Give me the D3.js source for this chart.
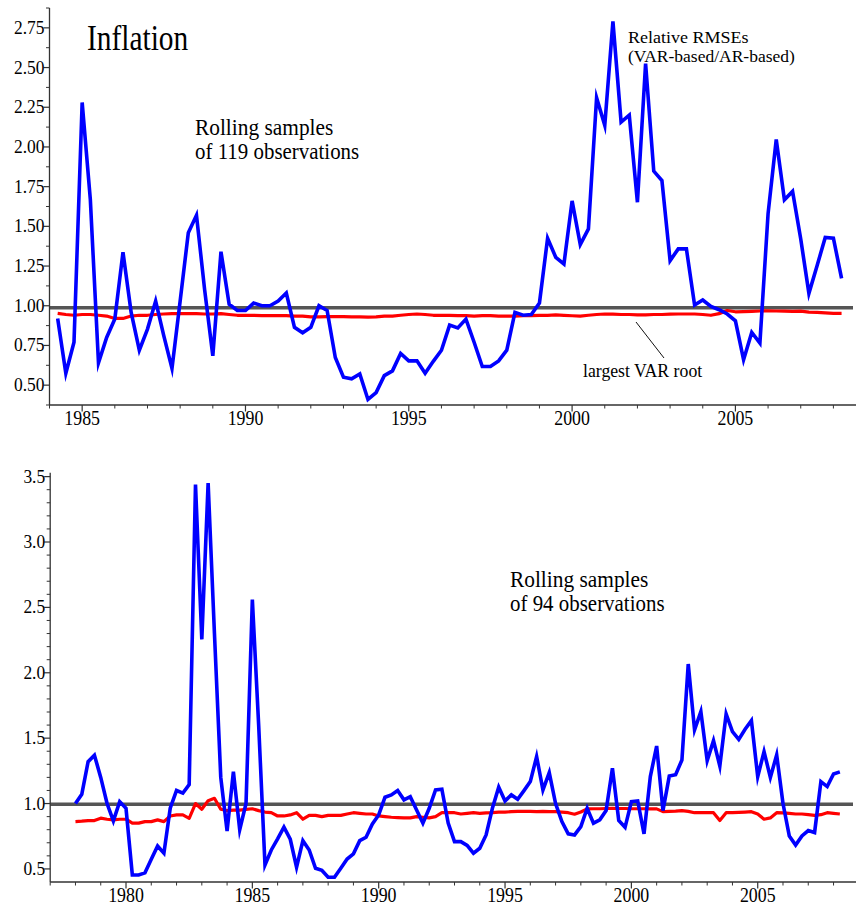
<!DOCTYPE html>
<html>
<head>
<meta charset="utf-8">
<script src="https://cdn.jsdelivr.net/npm/d3@7"></script>
<style>
  html, body { margin: 0; padding: 0; background: #fff; }
  svg { display: block; }
  text { font-family: "Liberation Serif", "Times New Roman", serif; fill: #000; }
</style>
</head>
<body>
<svg id="chart" width="856" height="907"></svg>
<script>
// ---------------- DATA ----------------
// Top panel: rolling samples of 119 observations, quarterly 1984Q2 .. 2008Q2
const topStart = 1984.25;
const topRmse = [
  0.92, 0.575, 0.77,
  2.28, 1.67, 0.64, 0.80,
  0.916, 1.337, 0.958, 0.72,
  0.853, 1.03, 0.81, 0.605,
  1.03, 1.46, 1.57, 1.10,
  0.685, 1.34, 1.01, 0.97,
  0.97, 1.017, 1.0, 1.0,
  1.03, 1.08, 0.864, 0.83,
  0.864, 1.0, 0.97, 0.674,
  0.55, 0.54, 0.57, 0.41,
  0.453, 0.56, 0.59, 0.70,
  0.653, 0.653, 0.575, 0.65,
  0.72, 0.878, 0.86, 0.916,
  0.77, 0.617, 0.617, 0.653,
  0.72, 0.958, 0.94, 0.945,
  1.017, 1.425, 1.305, 1.263,
  1.66, 1.385, 1.484, 2.31,
  2.136, 2.79, 2.157, 2.20,
  1.652, 2.525, 1.848, 1.789,
  1.284, 1.358, 1.358, 1.004,
  1.036, 0.996, 0.975, 0.948,
  0.905, 0.66, 0.832, 0.765,
  1.58, 2.047, 1.667, 1.72,
  1.42, 1.078, 1.252, 1.43,
  1.425, 1.173
];
const topRoot = [
  0.952, 0.945, 0.94,
  0.945, 0.945, 0.94, 0.935,
  0.92, 0.92, 0.935, 0.94,
  0.94, 0.945, 0.948, 0.95,
  0.95, 0.95, 0.95, 0.948,
  0.948, 0.95, 0.945, 0.94,
  0.94, 0.94, 0.938, 0.938,
  0.938, 0.938, 0.935, 0.935,
  0.93, 0.93, 0.932, 0.932,
  0.932, 0.93, 0.93, 0.928,
  0.93, 0.935, 0.935, 0.94,
  0.945, 0.948, 0.945, 0.94,
  0.94, 0.94, 0.938, 0.938,
  0.935, 0.938, 0.938, 0.935,
  0.935, 0.935, 0.937, 0.938,
  0.94, 0.94, 0.942, 0.94,
  0.937, 0.935, 0.94, 0.945,
  0.948, 0.947, 0.945, 0.945,
  0.942, 0.942, 0.945, 0.945,
  0.947, 0.948, 0.948, 0.948,
  0.945, 0.94, 0.95, 0.97,
  0.962, 0.963, 0.965, 0.967,
  0.968, 0.967, 0.966, 0.965,
  0.966, 0.96, 0.958, 0.955,
  0.952, 0.952
];
const topRefLine = 0.987;
const topYTicks = [0.5, 0.75, 1.0, 1.25, 1.5, 1.75, 2.0, 2.25, 2.5, 2.75];
const topYMinor = [0.375, 0.625, 0.875, 1.125, 1.375, 1.625, 1.875, 2.125, 2.375, 2.625, 2.875];
const topXTicks = [1985, 1990, 1995, 2000, 2005];

// Bottom panel: rolling samples of 94 observations, quarterly 1978Q1 .. 2008Q2
const botStart = 1978.0;
const botRmse = [
  1.00, 1.07, 1.32, 1.37,
  1.20, 1.00, 0.867, 1.015,
  0.964, 0.454, 0.454, 0.47,
  0.574, 0.675, 0.62, 0.964,
  1.10, 1.08, 1.145, 3.44,
  2.255, 3.45, 2.30, 1.20,
  0.79, 1.244, 0.80, 1.00,
  2.56, 1.60, 0.53, 0.645,
  0.73, 0.82, 0.727, 0.513,
  0.716, 0.645, 0.505, 0.49,
  0.436, 0.436, 0.505, 0.576,
  0.615, 0.716, 0.742, 0.844,
  0.913, 1.048, 1.066, 1.099,
  1.028, 1.053, 0.951, 0.85,
  0.964, 1.104, 1.109, 0.85,
  0.709, 0.709, 0.68, 0.62,
  0.658, 0.76, 0.964, 1.125,
  1.02, 1.066, 1.033, 1.099,
  1.168, 1.359, 1.104, 1.236,
  1.00, 0.862, 0.768, 0.76,
  0.823, 0.964, 0.85, 0.875,
  0.946, 1.27, 0.87, 0.818,
  1.015, 1.02, 0.768, 1.206,
  1.44, 0.946, 1.21, 1.22,
  1.333, 2.067, 1.563, 1.703,
  1.328, 1.481, 1.287, 1.685,
  1.55, 1.49, 1.568, 1.634,
  1.206, 1.397, 1.20, 1.372,
  1.00, 0.752, 0.683, 0.752,
  0.793, 0.778, 1.168, 1.13,
  1.226, 1.242
];
const botRoot = [
  0.862, 0.865, 0.87, 0.87,
  0.888, 0.88, 0.875, 0.88,
  0.88, 0.85, 0.85, 0.862,
  0.862, 0.875, 0.862, 0.905,
  0.913, 0.913, 0.887, 1.00,
  0.956, 1.022, 1.04, 0.956,
  0.946, 0.95, 0.95, 0.955,
  0.96, 0.946, 0.935, 0.93,
  0.905, 0.905, 0.913, 0.93,
  0.88, 0.91, 0.91, 0.90,
  0.91, 0.91, 0.91, 0.92,
  0.93, 0.925, 0.92, 0.92,
  0.905, 0.90, 0.895, 0.893,
  0.89, 0.89, 0.90, 0.895,
  0.89, 0.90, 0.93, 0.93,
  0.93, 0.92, 0.925, 0.93,
  0.925, 0.928, 0.93, 0.935,
  0.935, 0.938, 0.94, 0.94,
  0.94, 0.938, 0.94, 0.938,
  0.938, 0.935, 0.93, 0.918,
  0.935, 0.959, 0.96, 0.96,
  0.962, 0.964, 0.962, 0.962,
  0.96, 0.96, 0.96, 0.959,
  0.959, 0.938, 0.94, 0.942,
  0.946, 0.94, 0.93, 0.93,
  0.93, 0.93, 0.87, 0.93,
  0.93, 0.932, 0.935, 0.938,
  0.92, 0.88, 0.89, 0.93,
  0.928, 0.925, 0.92, 0.92,
  0.915, 0.91, 0.915, 0.93,
  0.925, 0.92
];
const botRefLine = 0.995;
const botYTicks = [0.5, 1.0, 1.5, 2.0, 2.5, 3.0, 3.5];
const botYMinor = [0.6, 0.7, 0.8, 0.9, 1.1, 1.2, 1.3, 1.4, 1.6, 1.7, 1.8, 1.9,
                   2.1, 2.2, 2.3, 2.4, 2.6, 2.7, 2.8, 2.9, 3.1, 3.2, 3.3, 3.4];
const botXTicks = [1980, 1985, 1990, 1995, 2000, 2005];

// ---------------- DRAW ----------------
const svg = d3.select("#chart");

function addText(g, x, y, str, size, sx, anchor) {
  g.append("text")
    .attr("transform", `translate(${x},${y}) scale(${sx},1)`)
    .attr("text-anchor", anchor || "start")
    .style("font-size", size + "px")
    .text(str);
}

function panel(cfg) {
  const g = svg.append("g");
  const x = d3.scaleLinear().domain(cfg.xDomain).range(cfg.xRange);
  const y = d3.scaleLinear().domain(cfg.yDomain).range(cfg.yRange);
  const x0 = cfg.xRange[0];
  const yBottom = cfg.yRange[0];

  const toPts = (arr, start) => arr.map((v, i) => [start + i * 0.25, v]);
  const line = d3.line().x(d => x(d[0])).y(d => y(d[1]));

  // reference line
  g.append("line")
    .attr("x1", x0).attr("x2", 853)
    .attr("y1", y(cfg.ref)).attr("y2", y(cfg.ref))
    .attr("stroke", "#555").attr("stroke-width", 3.6);

  g.append("path").datum(toPts(cfg.root, cfg.start))
    .attr("d", line).attr("fill", "none")
    .attr("stroke", "#ff0000").attr("stroke-width", 3.2)
    .attr("stroke-linejoin", "round");

  g.append("path").datum(toPts(cfg.rmse, cfg.start))
    .attr("d", line).attr("fill", "none")
    .attr("stroke", "#0000ff").attr("stroke-width", 3.6)
    .attr("stroke-linejoin", "miter").attr("stroke-miterlimit", 6);

  // y axis
  const axisColor = "#333";
  g.append("line").attr("x1", x0).attr("x2", x0)
    .attr("y1", cfg.yRange[1]).attr("y2", yBottom)
    .attr("stroke", axisColor).attr("stroke-width", 1.3);
  cfg.yTicks.forEach(t => {
    g.append("line").attr("x1", x0 - 6).attr("x2", x0)
      .attr("y1", y(t)).attr("y2", y(t))
      .attr("stroke", axisColor).attr("stroke-width", 1.2);
    addText(g, x0 - 5, y(t) + 6, cfg.yFmt(t), 18, 0.97, "end");
  });
  cfg.yMinor.forEach(t => {
    g.append("line").attr("x1", x0 - 3.5).attr("x2", x0)
      .attr("y1", y(t)).attr("y2", y(t))
      .attr("stroke", axisColor).attr("stroke-width", 1);
  });

  // x axis
  g.append("line").attr("x1", x0).attr("x2", 856)
    .attr("y1", yBottom).attr("y2", yBottom)
    .attr("stroke", axisColor).attr("stroke-width", 1.3);
  const yrs = d3.range(Math.ceil(cfg.xDomain[0]), Math.floor(cfg.xDomain[1]) + 1);
  yrs.forEach(yr => {
    const major = cfg.xTicks.includes(yr);
    g.append("line").attr("x1", x(yr)).attr("x2", x(yr))
      .attr("y1", yBottom).attr("y2", yBottom + (major ? 6.5 : 3.5))
      .attr("stroke", axisColor).attr("stroke-width", major ? 1.2 : 1);
  });
  cfg.xTicks.forEach(yr => {
    addText(g, x(yr), yBottom + 20, String(yr), 21, 0.85, "middle");
  });

  return { g, x, y };
}

const topPanel = panel({
  xDomain: [1984, 2008.75], xRange: [49.5, 857.9],
  yDomain: [0.375, 2.875], yRange: [405, 8],
  start: topStart, rmse: topRmse, root: topRoot, ref: topRefLine,
  yTicks: topYTicks, yMinor: topYMinor, yFmt: d3.format(".2f"),
  xTicks: topXTicks
});

const botPanel = panel({
  xDomain: [1977, 2009], xRange: [50.2, 858.8],
  yDomain: [0.4, 3.53], yRange: [882, 472.7],
  start: botStart, rmse: botRmse, root: botRoot, ref: botRefLine,
  yTicks: botYTicks, yMinor: botYMinor, yFmt: d3.format(".1f"),
  xTicks: botXTicks
});

// annotations (top)
addText(topPanel.g, 87, 50, "Inflation", 35, 0.84, "start");
addText(topPanel.g, 195, 135, "Rolling samples", 22.5, 0.95, "start");
addText(topPanel.g, 195, 159, "of 119 observations", 22.5, 0.93, "start");
addText(topPanel.g, 628, 43, "Relative RMSEs", 17.5, 1.03, "start");
addText(topPanel.g, 628, 62, "(VAR-based/AR-based)", 17.5, 1.0, "start");
addText(topPanel.g, 583, 377, "largest VAR root", 19.5, 0.91, "start");
topPanel.g.append("line")
  .attr("x1", 636).attr("y1", 322).attr("x2", 664).attr("y2", 358)
  .attr("stroke", "#111").attr("stroke-width", 1);

// annotations (bottom)
addText(botPanel.g, 510, 587, "Rolling samples", 22.5, 0.95, "start");
addText(botPanel.g, 510, 611, "of 94 observations", 22.5, 0.93, "start");
</script>
</body>
</html>
